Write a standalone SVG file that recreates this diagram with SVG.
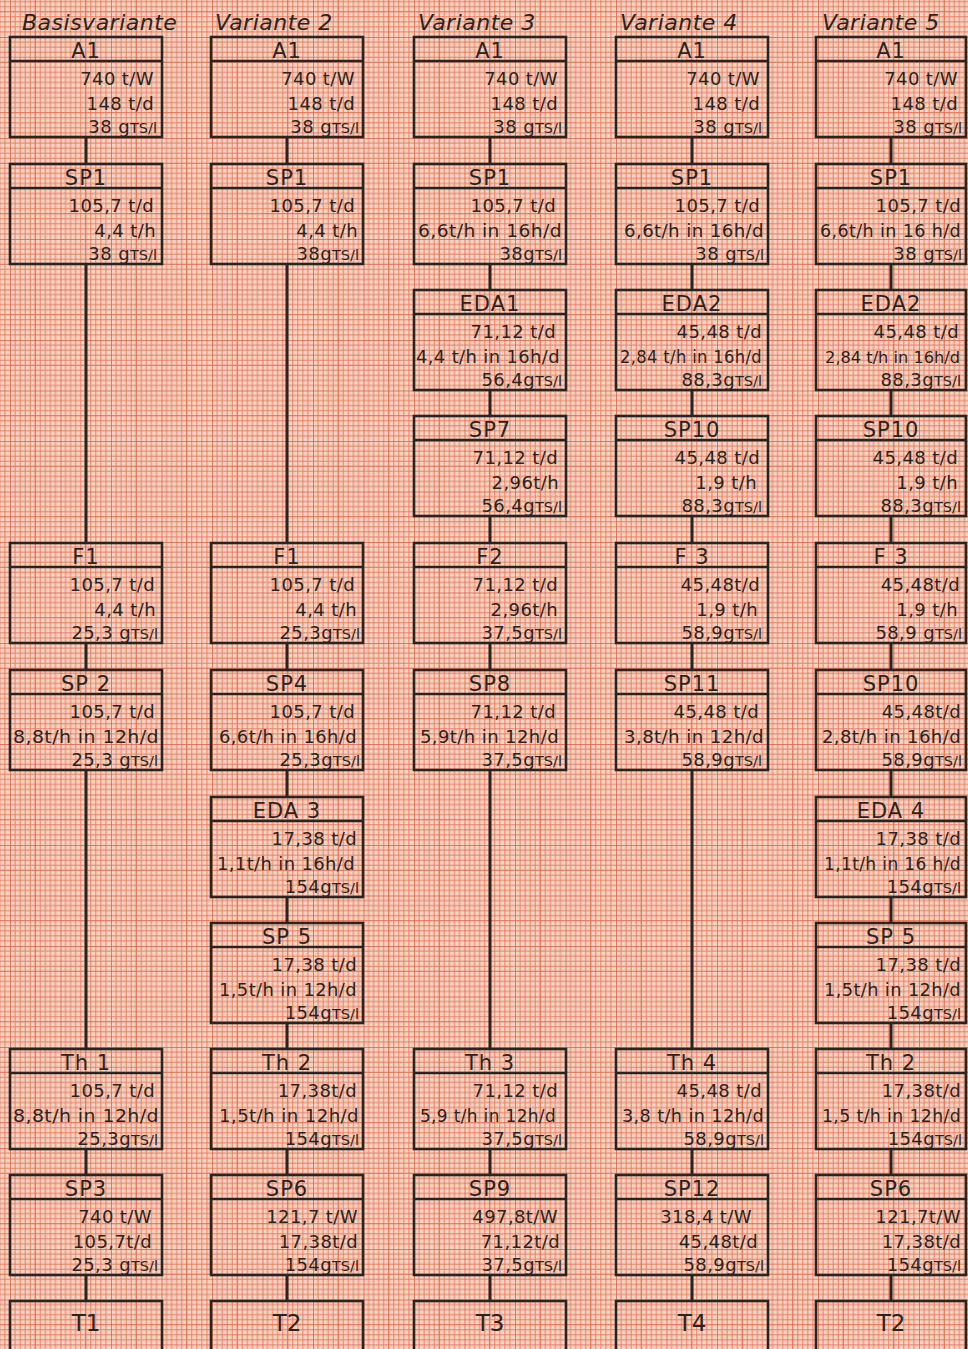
<svg xmlns="http://www.w3.org/2000/svg" width="968" height="1349" viewBox="0 0 968 1349">
<defs>
<pattern id="grid" x="10" y="37" width="50.5" height="50.5" patternUnits="userSpaceOnUse">
<rect width="50.5" height="50.5" fill="#f6d2c1"/>
<path d="M5.05 0V50.5M10.1 0V50.5M15.15 0V50.5M20.2 0V50.5M30.3 0V50.5M35.35 0V50.5M40.4 0V50.5M45.45 0V50.5M0 5.05H50.5M0 10.1H50.5M0 15.15H50.5M0 20.2H50.5M0 30.3H50.5M0 35.35H50.5M0 40.4H50.5M0 45.45H50.5" stroke="#e4775c" stroke-width="0.9" fill="none"/>
<path d="M25.25 0V50.5M0 25.25H50.5" stroke="#dd6a4e" stroke-width="1.2" fill="none"/>
<path d="M0 0V50.5M0 0H50.5" stroke="#d95f44" stroke-width="1.5" fill="none"/>
</pattern>
<style>
.b{fill:none;stroke:#2a2421;stroke-width:2.6}
.d{stroke:#2a2421;stroke-width:2.4}
.h{font-family:"DejaVu Sans",sans-serif;font-size:21px;text-anchor:middle;fill:#2a2421;letter-spacing:1px}
.v{font-family:"DejaVu Sans",sans-serif;font-size:18px;text-anchor:end;fill:#2a2421;letter-spacing:0.4px}
.s{font-size:14.5px;letter-spacing:0}
.n{font-size:16.2px;letter-spacing:0}
.t{font-family:"DejaVu Sans",sans-serif;font-size:23px;text-anchor:middle;fill:#2a2421}
.ti{font-family:"DejaVu Sans",sans-serif;font-size:22px;font-style:italic;fill:#2a2421;letter-spacing:0.5px}
.c{stroke:#2a2421;stroke-width:3;fill:none}
</style>
</defs>
<rect width="968" height="1349" fill="url(#grid)"/>

<g id="titles">
<text class="ti" x="22" y="30">Basisvariante</text>
<text class="ti" x="215" y="30">Variante 2</text>
<text class="ti" x="418" y="30">Variante 3</text>
<text class="ti" x="620" y="30">Variante 4</text>
<text class="ti" x="822" y="30">Variante 5</text>
</g>

<g id="connectors">
<path class="c" d="M86 137V164M86 264V543M86 643V670M86 770V1049M86 1149V1175M86 1275V1301"/>
<path class="c" d="M287 137V164M287 264V543M287 643V670M287 770V797M287 897V923M287 1023V1049M287 1149V1175M287 1275V1301"/>
<path class="c" d="M490 137V164M490 264V290M490 390V416M490 516V543M490 643V670M490 770V1049M490 1149V1175M490 1275V1301"/>
<path class="c" d="M692 137V164M692 264V290M692 390V416M692 516V543M692 643V670M692 770V1049M692 1149V1175M692 1275V1301"/>
<path class="c" d="M891 137V164M891 264V290M891 390V416M891 516V543M891 643V670M891 770V797M891 897V923M891 1023V1049M891 1149V1175M891 1275V1301"/>
</g>

<!-- Column 1: Basisvariante -->
<g id="c1-A1" transform="translate(10,37)"><rect class="b" width="152" height="100"/><line class="d" x1="0" y1="24" x2="152" y2="24"/><text class="h" x="76" y="21">A1</text><text class="v" x="144" y="48">740 t/W</text><text class="v" x="144" y="73">148 t/d</text><text class="v" x="147" y="96">38 g<tspan class="s">TS/l</tspan></text></g>
<g id="c1-SP1" transform="translate(10,164)"><rect class="b" width="152" height="100"/><line class="d" x1="0" y1="24" x2="152" y2="24"/><text class="h" x="76" y="21">SP1</text><text class="v" x="144" y="48">105,7 t/d</text><text class="v" x="146" y="73">4,4 t/h</text><text class="v" x="147" y="96">38 g<tspan class="s">TS/l</tspan></text></g>
<g id="c1-F1" transform="translate(10,543)"><rect class="b" width="152" height="100"/><line class="d" x1="0" y1="24" x2="152" y2="24"/><text class="h" x="76" y="21">F1</text><text class="v" x="145" y="48">105,7 t/d</text><text class="v" x="146" y="73">4,4 t/h</text><text class="v" x="148" y="96">25,3 g<tspan class="s">TS/l</tspan></text></g>
<g id="c1-SP2" transform="translate(10,670)"><rect class="b" width="152" height="100"/><line class="d" x1="0" y1="24" x2="152" y2="24"/><text class="h" x="76" y="21">SP 2</text><text class="v" x="145" y="48">105,7 t/d</text><text class="v" x="149" y="73" textLength="146" lengthAdjust="spacingAndGlyphs">8,8t/h in 12h/d</text><text class="v" x="148" y="96">25,3 g<tspan class="s">TS/l</tspan></text></g>
<g id="c1-Th1" transform="translate(10,1049)"><rect class="b" width="152" height="100"/><line class="d" x1="0" y1="24" x2="152" y2="24"/><text class="h" x="76" y="21">Th 1</text><text class="v" x="145" y="48">105,7 t/d</text><text class="v" x="149" y="73" textLength="146" lengthAdjust="spacingAndGlyphs">8,8t/h in 12h/d</text><text class="v" x="148" y="96">25,3g<tspan class="s">TS/l</tspan></text></g>
<g id="c1-SP3" transform="translate(10,1175)"><rect class="b" width="152" height="100"/><line class="d" x1="0" y1="24" x2="152" y2="24"/><text class="h" x="76" y="21">SP3</text><text class="v" x="142" y="48">740 t/W</text><text class="v" x="142" y="73">105,7t/d</text><text class="v" x="148" y="96">25,3 g<tspan class="s">TS/l</tspan></text></g>
<g id="c1-T1" transform="translate(10,1301)"><rect class="b" width="152" height="70"/><text class="t" x="76" y="30">T1</text></g>

<!-- Column 2: Variante 2 -->
<g id="c2-A1" transform="translate(211,37)"><rect class="b" width="152" height="100"/><line class="d" x1="0" y1="24" x2="152" y2="24"/><text class="h" x="76" y="21">A1</text><text class="v" x="144" y="48">740 t/W</text><text class="v" x="144" y="73">148 t/d</text><text class="v" x="148" y="96">38 g<tspan class="s">TS/l</tspan></text></g>
<g id="c2-SP1" transform="translate(211,164)"><rect class="b" width="152" height="100"/><line class="d" x1="0" y1="24" x2="152" y2="24"/><text class="h" x="76" y="21">SP1</text><text class="v" x="144" y="48">105,7 t/d</text><text class="v" x="147" y="73">4,4 t/h</text><text class="v" x="148" y="96">38g<tspan class="s">TS/l</tspan></text></g>
<g id="c2-F1" transform="translate(211,543)"><rect class="b" width="152" height="100"/><line class="d" x1="0" y1="24" x2="152" y2="24"/><text class="h" x="76" y="21">F1</text><text class="v" x="144" y="48">105,7 t/d</text><text class="v" x="146" y="73">4,4 t/h</text><text class="v" x="149" y="96">25,3g<tspan class="s">TS/l</tspan></text></g>
<g id="c2-SP4" transform="translate(211,670)"><rect class="b" width="152" height="100"/><line class="d" x1="0" y1="24" x2="152" y2="24"/><text class="h" x="76" y="21">SP4</text><text class="v" x="144" y="48">105,7 t/d</text><text class="v" x="146" y="73" textLength="138" lengthAdjust="spacingAndGlyphs">6,6t/h in 16h/d</text><text class="v" x="149" y="96">25,3g<tspan class="s">TS/l</tspan></text></g>
<g id="c2-EDA3" transform="translate(211,797)"><rect class="b" width="152" height="100"/><line class="d" x1="0" y1="24" x2="152" y2="24"/><text class="h" x="76" y="21">EDA 3</text><text class="v" x="146" y="48">17,38 t/d</text><text class="v" x="144" y="73" textLength="138" lengthAdjust="spacingAndGlyphs">1,1t/h in 16h/d</text><text class="v" x="148" y="96">154g<tspan class="s">TS/l</tspan></text></g>
<g id="c2-SP5" transform="translate(211,923)"><rect class="b" width="152" height="100"/><line class="d" x1="0" y1="24" x2="152" y2="24"/><text class="h" x="76" y="21">SP 5</text><text class="v" x="146" y="48">17,38 t/d</text><text class="v" x="146" y="73" textLength="138" lengthAdjust="spacingAndGlyphs">1,5t/h in 12h/d</text><text class="v" x="148" y="96">154g<tspan class="s">TS/l</tspan></text></g>
<g id="c2-Th2" transform="translate(211,1049)"><rect class="b" width="152" height="100"/><line class="d" x1="0" y1="24" x2="152" y2="24"/><text class="h" x="76" y="21">Th 2</text><text class="v" x="146" y="48">17,38t/d</text><text class="v" x="148" y="73" textLength="140" lengthAdjust="spacingAndGlyphs">1,5t/h in 12h/d</text><text class="v" x="148" y="96">154g<tspan class="s">TS/l</tspan></text></g>
<g id="c2-SP6" transform="translate(211,1175)"><rect class="b" width="152" height="100"/><line class="d" x1="0" y1="24" x2="152" y2="24"/><text class="h" x="76" y="21">SP6</text><text class="v" x="147" y="48">121,7 t/W</text><text class="v" x="147" y="73">17,38t/d</text><text class="v" x="148" y="96">154g<tspan class="s">TS/l</tspan></text></g>
<g id="c2-T2" transform="translate(211,1301)"><rect class="b" width="152" height="70"/><text class="t" x="76" y="30">T2</text></g>

<!-- Column 3: Variante 3 -->
<g id="c3-A1" transform="translate(414,37)"><rect class="b" width="152" height="100"/><line class="d" x1="0" y1="24" x2="152" y2="24"/><text class="h" x="76" y="21">A1</text><text class="v" x="144" y="48">740 t/W</text><text class="v" x="144" y="73">148 t/d</text><text class="v" x="148" y="96">38 g<tspan class="s">TS/l</tspan></text></g>
<g id="c3-SP1" transform="translate(414,164)"><rect class="b" width="152" height="100"/><line class="d" x1="0" y1="24" x2="152" y2="24"/><text class="h" x="76" y="21">SP1</text><text class="v" x="142" y="48">105,7 t/d</text><text class="v" x="148" y="73" textLength="144" lengthAdjust="spacingAndGlyphs">6,6t/h in 16h/d</text><text class="v" x="148" y="96">38g<tspan class="s">TS/l</tspan></text></g>
<g id="c3-EDA1" transform="translate(414,290)"><rect class="b" width="152" height="100"/><line class="d" x1="0" y1="24" x2="152" y2="24"/><text class="h" x="76" y="21">EDA1</text><text class="v" x="142" y="48">71,12 t/d</text><text class="v" x="146" y="73" textLength="144" lengthAdjust="spacingAndGlyphs">4,4 t/h in 16h/d</text><text class="v" x="148" y="96">56,4g<tspan class="s">TS/l</tspan></text></g>
<g id="c3-SP7" transform="translate(414,416)"><rect class="b" width="152" height="100"/><line class="d" x1="0" y1="24" x2="152" y2="24"/><text class="h" x="76" y="21">SP7</text><text class="v" x="144" y="48">71,12 t/d</text><text class="v" x="145" y="73">2,96t/h</text><text class="v" x="148" y="96">56,4g<tspan class="s">TS/l</tspan></text></g>
<g id="c3-F2" transform="translate(414,543)"><rect class="b" width="152" height="100"/><line class="d" x1="0" y1="24" x2="152" y2="24"/><text class="h" x="76" y="21">F2</text><text class="v" x="144" y="48">71,12 t/d</text><text class="v" x="144" y="73">2,96t/h</text><text class="v" x="148" y="96">37,5g<tspan class="s">TS/l</tspan></text></g>
<g id="c3-SP8" transform="translate(414,670)"><rect class="b" width="152" height="100"/><line class="d" x1="0" y1="24" x2="152" y2="24"/><text class="h" x="76" y="21">SP8</text><text class="v" x="142" y="48">71,12 t/d</text><text class="v" x="145" y="73" textLength="139" lengthAdjust="spacingAndGlyphs">5,9t/h in 12h/d</text><text class="v" x="148" y="96">37,5g<tspan class="s">TS/l</tspan></text></g>
<g id="c3-Th3" transform="translate(414,1049)"><rect class="b" width="152" height="100"/><line class="d" x1="0" y1="24" x2="152" y2="24"/><text class="h" x="76" y="21">Th 3</text><text class="v" x="144" y="48">71,12 t/d</text><text class="v" x="142" y="73" textLength="136" lengthAdjust="spacingAndGlyphs">5,9 t/h in 12h/d</text><text class="v" x="148" y="96">37,5g<tspan class="s">TS/l</tspan></text></g>
<g id="c3-SP9" transform="translate(414,1175)"><rect class="b" width="152" height="100"/><line class="d" x1="0" y1="24" x2="152" y2="24"/><text class="h" x="76" y="21">SP9</text><text class="v" x="144" y="48">497,8t/W</text><text class="v" x="146" y="73">71,12t/d</text><text class="v" x="148" y="96">37,5g<tspan class="s">TS/l</tspan></text></g>
<g id="c3-T3" transform="translate(414,1301)"><rect class="b" width="152" height="70"/><text class="t" x="76" y="30">T3</text></g>

<!-- Column 4: Variante 4 -->
<g id="c4-A1" transform="translate(616,37)"><rect class="b" width="152" height="100"/><line class="d" x1="0" y1="24" x2="152" y2="24"/><text class="h" x="76" y="21">A1</text><text class="v" x="144" y="48">740 t/W</text><text class="v" x="144" y="73">148 t/d</text><text class="v" x="146" y="96">38 g<tspan class="s">TS/l</tspan></text></g>
<g id="c4-SP1" transform="translate(616,164)"><rect class="b" width="152" height="100"/><line class="d" x1="0" y1="24" x2="152" y2="24"/><text class="h" x="76" y="21">SP1</text><text class="v" x="144" y="48">105,7 t/d</text><text class="v" x="148" y="73" textLength="140" lengthAdjust="spacingAndGlyphs">6,6t/h in 16h/d</text><text class="v" x="148" y="96">38 g<tspan class="s">TS/l</tspan></text></g>
<g id="c4-EDA2" transform="translate(616,290)"><rect class="b" width="152" height="100"/><line class="d" x1="0" y1="24" x2="152" y2="24"/><text class="h" x="76" y="21">EDA2</text><text class="v" x="146" y="48">45,48 t/d</text><text class="v" x="146" y="73" textLength="142" lengthAdjust="spacingAndGlyphs">2,84 t/h in 16h/d</text><text class="v" x="146" y="96">88,3g<tspan class="s">TS/l</tspan></text></g>
<g id="c4-SP10" transform="translate(616,416)"><rect class="b" width="152" height="100"/><line class="d" x1="0" y1="24" x2="152" y2="24"/><text class="h" x="76" y="21">SP10</text><text class="v" x="144" y="48">45,48 t/d</text><text class="v" x="141" y="73">1,9 t/h</text><text class="v" x="146" y="96">88,3g<tspan class="s">TS/l</tspan></text></g>
<g id="c4-F3" transform="translate(616,543)"><rect class="b" width="152" height="100"/><line class="d" x1="0" y1="24" x2="152" y2="24"/><text class="h" x="76" y="21">F 3</text><text class="v" x="144" y="48">45,48t/d</text><text class="v" x="142" y="73">1,9 t/h</text><text class="v" x="146" y="96">58,9g<tspan class="s">TS/l</tspan></text></g>
<g id="c4-SP11" transform="translate(616,670)"><rect class="b" width="152" height="100"/><line class="d" x1="0" y1="24" x2="152" y2="24"/><text class="h" x="76" y="21">SP11</text><text class="v" x="143" y="48">45,48 t/d</text><text class="v" x="148" y="73" textLength="140" lengthAdjust="spacingAndGlyphs">3,8t/h in 12h/d</text><text class="v" x="146" y="96">58,9g<tspan class="s">TS/l</tspan></text></g>
<g id="c4-Th4" transform="translate(616,1049)"><rect class="b" width="152" height="100"/><line class="d" x1="0" y1="24" x2="152" y2="24"/><text class="h" x="76" y="21">Th 4</text><text class="v" x="146" y="48">45,48 t/d</text><text class="v" x="148" y="73" textLength="142" lengthAdjust="spacingAndGlyphs">3,8 t/h in 12h/d</text><text class="v" x="148" y="96">58,9g<tspan class="s">TS/l</tspan></text></g>
<g id="c4-SP12" transform="translate(616,1175)"><rect class="b" width="152" height="100"/><line class="d" x1="0" y1="24" x2="152" y2="24"/><text class="h" x="76" y="21">SP12</text><text class="v" x="136" y="48">318,4 t/W</text><text class="v" x="142" y="73">45,48t/d</text><text class="v" x="148" y="96">58,9g<tspan class="s">TS/l</tspan></text></g>
<g id="c4-T4" transform="translate(616,1301)"><rect class="b" width="152" height="70"/><text class="t" x="76" y="30">T4</text></g>

<!-- Column 5: Variante 5 -->
<g id="c5-A1" transform="translate(816,37)"><rect class="b" width="150" height="100"/><line class="d" x1="0" y1="24" x2="150" y2="24"/><text class="h" x="75" y="21">A1</text><text class="v" x="142" y="48">740 t/W</text><text class="v" x="142" y="73">148 t/d</text><text class="v" x="146" y="96">38 g<tspan class="s">TS/l</tspan></text></g>
<g id="c5-SP1" transform="translate(816,164)"><rect class="b" width="150" height="100"/><line class="d" x1="0" y1="24" x2="150" y2="24"/><text class="h" x="75" y="21">SP1</text><text class="v" x="145" y="48">105,7 t/d</text><text class="v" x="145" y="73" textLength="141" lengthAdjust="spacingAndGlyphs">6,6t/h in 16 h/d</text><text class="v" x="146" y="96">38 g<tspan class="s">TS/l</tspan></text></g>
<g id="c5-EDA2" transform="translate(816,290)"><rect class="b" width="150" height="100"/><line class="d" x1="0" y1="24" x2="150" y2="24"/><text class="h" x="75" y="21">EDA2</text><text class="v" x="143" y="48">45,48 t/d</text><text class="v n" x="144" y="73">2,84 t/h in 16h/d</text><text class="v" x="145" y="96">88,3g<tspan class="s">TS/l</tspan></text></g>
<g id="c5-SP10a" transform="translate(816,416)"><rect class="b" width="150" height="100"/><line class="d" x1="0" y1="24" x2="150" y2="24"/><text class="h" x="75" y="21">SP10</text><text class="v" x="142" y="48">45,48 t/d</text><text class="v" x="142" y="73">1,9 t/h</text><text class="v" x="145" y="96">88,3g<tspan class="s">TS/l</tspan></text></g>
<g id="c5-F3" transform="translate(816,543)"><rect class="b" width="150" height="100"/><line class="d" x1="0" y1="24" x2="150" y2="24"/><text class="h" x="75" y="21">F 3</text><text class="v" x="144" y="48">45,48t/d</text><text class="v" x="142" y="73">1,9 t/h</text><text class="v" x="146" y="96">58,9 g<tspan class="s">TS/l</tspan></text></g>
<g id="c5-SP10b" transform="translate(816,670)"><rect class="b" width="150" height="100"/><line class="d" x1="0" y1="24" x2="150" y2="24"/><text class="h" x="75" y="21">SP10</text><text class="v" x="145" y="48">45,48t/d</text><text class="v" x="145" y="73" textLength="139" lengthAdjust="spacingAndGlyphs">2,8t/h in 16h/d</text><text class="v" x="146" y="96">58,9g<tspan class="s">TS/l</tspan></text></g>
<g id="c5-EDA4" transform="translate(816,797)"><rect class="b" width="150" height="100"/><line class="d" x1="0" y1="24" x2="150" y2="24"/><text class="h" x="75" y="21">EDA 4</text><text class="v" x="145" y="48">17,38 t/d</text><text class="v" x="145" y="73" textLength="137" lengthAdjust="spacingAndGlyphs">1,1t/h in 16 h/d</text><text class="v" x="145" y="96">154g<tspan class="s">TS/l</tspan></text></g>
<g id="c5-SP5" transform="translate(816,923)"><rect class="b" width="150" height="100"/><line class="d" x1="0" y1="24" x2="150" y2="24"/><text class="h" x="75" y="21">SP 5</text><text class="v" x="145" y="48">17,38 t/d</text><text class="v" x="145" y="73" textLength="137" lengthAdjust="spacingAndGlyphs">1,5t/h in 12h/d</text><text class="v" x="145" y="96">154g<tspan class="s">TS/l</tspan></text></g>
<g id="c5-Th2" transform="translate(816,1049)"><rect class="b" width="150" height="100"/><line class="d" x1="0" y1="24" x2="150" y2="24"/><text class="h" x="75" y="21">Th 2</text><text class="v" x="145" y="48">17,38t/d</text><text class="v" x="145" y="73" textLength="139" lengthAdjust="spacingAndGlyphs">1,5 t/h in 12h/d</text><text class="v" x="146" y="96">154g<tspan class="s">TS/l</tspan></text></g>
<g id="c5-SP6" transform="translate(816,1175)"><rect class="b" width="150" height="100"/><line class="d" x1="0" y1="24" x2="150" y2="24"/><text class="h" x="75" y="21">SP6</text><text class="v" x="145" y="48">121,7t/W</text><text class="v" x="145" y="73">17,38t/d</text><text class="v" x="145" y="96">154g<tspan class="s">TS/l</tspan></text></g>
<g id="c5-T2" transform="translate(816,1301)"><rect class="b" width="150" height="70"/><text class="t" x="75" y="30">T2</text></g>
</svg>
